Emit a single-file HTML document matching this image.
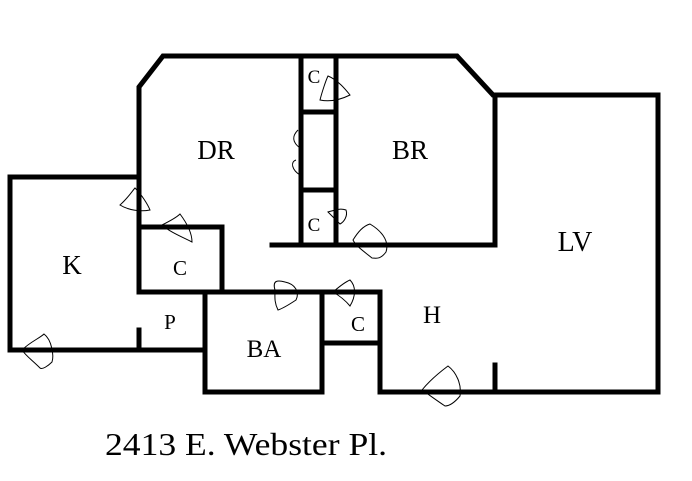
<!DOCTYPE html>
<html><head><meta charset="utf-8"><style>
html,body{margin:0;padding:0;background:#fff;}
svg{display:block;}
text{font-family:"Liberation Serif",serif;fill:#000;}
</style></head><body>
<svg width="692" height="481" viewBox="0 0 692 481" xmlns="http://www.w3.org/2000/svg">
<g stroke="#000" stroke-width="5" fill="none" stroke-linecap="square">
<!-- top & DR -->
<polyline points="139,292 139,87 163,56 457,56 493,95 658,95 658,392 380,392 380,292"/>
<line x1="495" y1="95" x2="495" y2="245"/>
<line x1="272" y1="245" x2="495" y2="245"/>
<line x1="301" y1="56" x2="301" y2="245"/>
<line x1="336" y1="56" x2="336" y2="245"/>
<line x1="301" y1="112" x2="336" y2="112"/>
<line x1="301" y1="190" x2="336" y2="190"/>
<!-- K -->
<polyline points="139,177 10,177 10,350 205,350"/>
<line x1="139" y1="330" x2="139" y2="350"/>
<!-- closet C -->
<polyline points="139,227 222,227 222,292"/>
<line x1="139" y1="292" x2="380" y2="292"/>
<!-- BA -->
<polyline points="205,292 205,392 322,392 322,292"/>
<line x1="322" y1="343" x2="380" y2="343"/>
<line x1="495" y1="365" x2="495" y2="392"/>
</g>
<g stroke="#000" stroke-width="1" fill="none">
<path d="M120,205 C128,198 133,190 135,188 C142,195 148,205 150,210 C140,212 128,210 120,205Z"/>
<path d="M162,225 C172,220 178,216 180,214 C186,222 192,232 192,242 C180,236 170,232 162,225Z"/>
<path d="M22,350 C30,342 40,338 44,334 C52,340 54,356 52,362 C48,366 42,370 40,368 C32,360 26,356 22,350Z"/>
<path d="M275,290 C272,280 278,280 285,282 C295,284 300,292 296,300 C290,304 284,308 278,310 C274,302 275,296 275,290Z"/>
<path d="M333,292 C340,286 345,282 350,280 C356,286 356,296 350,306 C345,300 340,296 333,292Z"/>
<path d="M320,100 C322,92 326,80 328,76 C338,80 346,90 350,95 C340,100 330,102 320,100Z"/>
<path d="M300,148 C292,142 292,136 298,130"/>
<path d="M300,175 C292,170 290,162 296,160"/>
<path d="M328,212 C335,210 340,208 346,210 C348,216 344,222 340,224 C336,220 332,216 328,212Z"/>
<path d="M353,240 C358,232 363,226 370,224 C380,230 390,240 386,252 C380,260 376,258 372,258 C362,250 356,246 353,240Z"/>
<path d="M422,390 C430,380 440,372 448,366 C456,372 462,384 460,396 C455,402 450,406 445,406 C436,400 428,394 422,390Z"/>
</g>
<text x="216" y="159" font-size="27" text-anchor="middle">DR</text>
<text x="410" y="159" font-size="27" text-anchor="middle">BR</text>
<text x="72" y="274" font-size="27" text-anchor="middle">K</text>
<text x="180" y="275" font-size="21" text-anchor="middle">C</text>
<text x="170" y="329" font-size="21" text-anchor="middle">P</text>
<text x="264" y="357" font-size="25" text-anchor="middle">BA</text>
<text x="358" y="331" font-size="21" text-anchor="middle">C</text>
<text x="432" y="323" font-size="25" text-anchor="middle">H</text>
<text x="575" y="251" font-size="28" text-anchor="middle">LV</text>
<text x="314" y="83" font-size="19" text-anchor="middle">C</text>
<text x="314" y="231" font-size="19" text-anchor="middle">C</text>
<text x="105" y="455" font-size="32" textLength="282" lengthAdjust="spacingAndGlyphs">2413 E. Webster Pl.</text>
</svg>
</body></html>
